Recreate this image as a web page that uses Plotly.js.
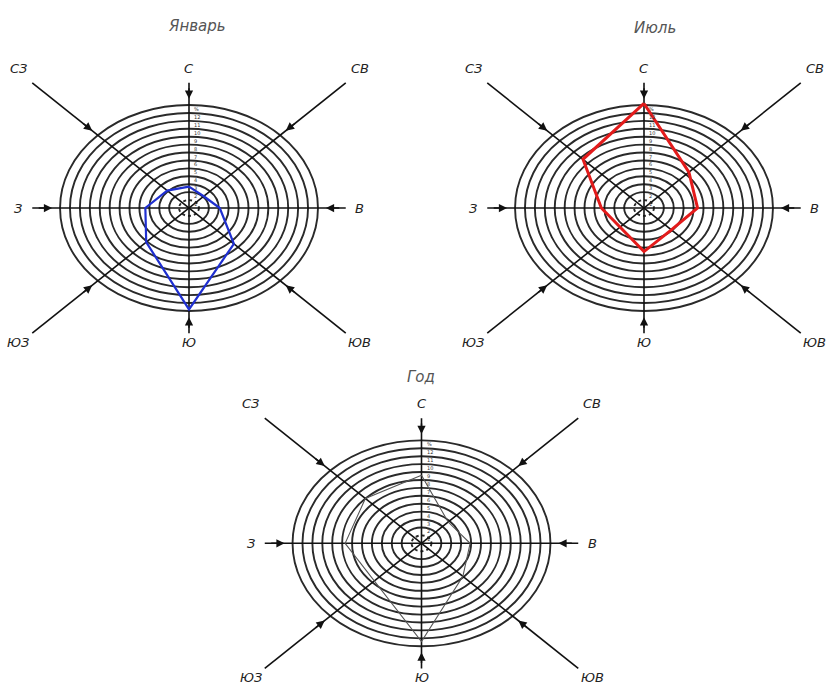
<!DOCTYPE html>
<html>
<head>
<meta charset="utf-8">
<script src="https://cdn.plot.ly/plotly-3.0.1.min.js"></script>
<style>html,body{margin:0;padding:0;background:#fff;}#chart{width:830px;height:688px;}</style>
</head>
<body>
<div id="chart"></div>
<script>
// ---- data ----
const directions = ['С', 'СВ', 'В', 'ЮВ', 'Ю', 'ЮЗ', 'З', 'СЗ'];
const january = [2.7, 2.1, 3.1, 6.4, 12.8, 6.1, 4.4, 3.1];
const july = [13.2, 6.4, 5.4, 3.9, 5.5, 3.4, 4.3, 8.7];
const year = [8.6, 3.8, 4.9, 5.9, 12.4, 6.7, 7.7, 8.0];
const ringValues = [1, 2, 3, 4, 5, 6, 7, 8, 9, 10, 11, 12, 13];
const ringLabels = ['1', '2', '3', '4', '5', '6', '7', '8', '9', '10', '11', '12', '%'];
const panelTitles = ['Январь', 'Июль', 'Год'];

// ---- layout helpers ----
const W = 830, H = 688;
const panels = [
  {series: january, color: '#1f2fd0', width: 2.2, cx: 189, cy: 208, titleX: 197, titleY: 26},
  {series: july, color: '#e31b1b', width: 3, cx: 644, cy: 208, titleX: 655, titleY: 28},
  {series: year, color: '#555555', width: 1.1, cx: 421.5, cy: 543.3, titleX: 421, titleY: 377}
];
const PX = 9.92, PY = 7.92;          // pixels per unit
const XR = [-19, 18.6], YR = [-18.2, 19];

const layout = {
  width: W, height: H, margin: {l: 0, r: 0, t: 0, b: 0},
  paper_bgcolor: '#fff', plot_bgcolor: 'rgba(0,0,0,0)',
  showlegend: false, shapes: [], annotations: []
};
const traces = [];
const labelFont = {family: 'DejaVu Sans, sans-serif', size: 13, color: '#222', style: 'italic'};

panels.forEach((p, k) => {
  const sfx = k === 0 ? '' : String(k + 1);
  const xa = 'x' + sfx, ya = 'y' + sfx;
  const left = p.cx + XR[0] * PX, right = p.cx + XR[1] * PX;
  const top = p.cy - YR[1] * PY, bottom = p.cy - YR[0] * PY;
  const axBase = {showgrid: false, zeroline: false, showticklabels: false, showline: false, ticks: '', fixedrange: true};
  layout['xaxis' + sfx] = Object.assign({}, axBase, {range: XR, domain: [left / W, Math.min(1, right / W)], anchor: ya});
  layout['yaxis' + sfx] = Object.assign({}, axBase, {range: YR, domain: [Math.max(0, 1 - bottom / H), 1 - top / H], anchor: xa});

  // rings
  ringValues.forEach((r, i) => {
    layout.shapes.push({type: 'circle', xref: xa, yref: ya, x0: -r, x1: r, y0: -r, y1: r,
      line: {color: '#2a2a2a', width: 1.9, dash: i === 0 ? 'dot' : 'solid'}, layer: 'below'});
  });

  // direction axes, arrows and labels
  directions.forEach((d, i) => {
    const th = i * Math.PI / 4;
    const ux = Math.sin(th), uy = Math.cos(th);
    const m = Math.max(Math.abs(ux), Math.abs(uy));
    const sx = Math.abs(ux) < 1e-9 ? 0 : ux / m, sy = Math.abs(uy) < 1e-9 ? 0 : uy / m;
    if (i < 4) {
      layout.shapes.push({type: 'line', xref: xa, yref: ya, x0: -15.8 * sx, y0: -15.8 * sy, x1: 15.8 * sx, y1: 15.8 * sy,
        line: {color: '#111', width: 1.6}, layer: 'below'});
    }
    layout.annotations.push({xref: xa, yref: ya, axref: xa, ayref: ya,
      x: 13.8 * ux, y: 13.8 * uy, ax: 15.3 * ux, ay: 15.3 * uy, text: '',
      showarrow: true, arrowhead: 2, arrowsize: 1.1, arrowwidth: 1.5, arrowcolor: '#111', standoff: 0});
    layout.annotations.push({xref: xa, yref: ya, x: 17.2 * sx, y: (sy < 0 ? 17.0 : 17.6) * sy, text: d,
      showarrow: false, font: labelFont, xanchor: 'center', yanchor: 'middle'});
  });

  // ring scale labels along the north axis
  ringLabels.forEach((t, i) => {
    layout.annotations.push({xref: xa, yref: ya, x: 0.35, y: ringValues[i] - 0.5, text: t,
      showarrow: false, xanchor: 'left', yanchor: 'middle',
      font: {family: 'DejaVu Sans', size: 5, color: '#333'}});
  });

  // title
  layout.annotations.push({xref: 'paper', yref: 'paper', x: p.titleX / W, y: 1 - p.titleY / H,
    text: panelTitles[k], showarrow: false, xanchor: 'center', yanchor: 'middle',
    font: {family: 'DejaVu Sans, sans-serif', size: 15, color: '#555', style: 'italic'}});

  // wind rose polygon
  const xs = [], ys = [];
  p.series.forEach((v, i) => {
    const th = i * Math.PI / 4;
    xs.push(v * Math.sin(th)); ys.push(v * Math.cos(th));
  });
  xs.push(xs[0]); ys.push(ys[0]);
  traces.push({type: 'scatter', mode: 'lines', x: xs, y: ys, xaxis: xa, yaxis: ya,
    line: {color: p.color, width: p.width}, hoverinfo: 'skip'});
});

Plotly.newPlot('chart', traces, layout, {staticPlot: true, displayModeBar: false});
</script>
</body>
</html>
